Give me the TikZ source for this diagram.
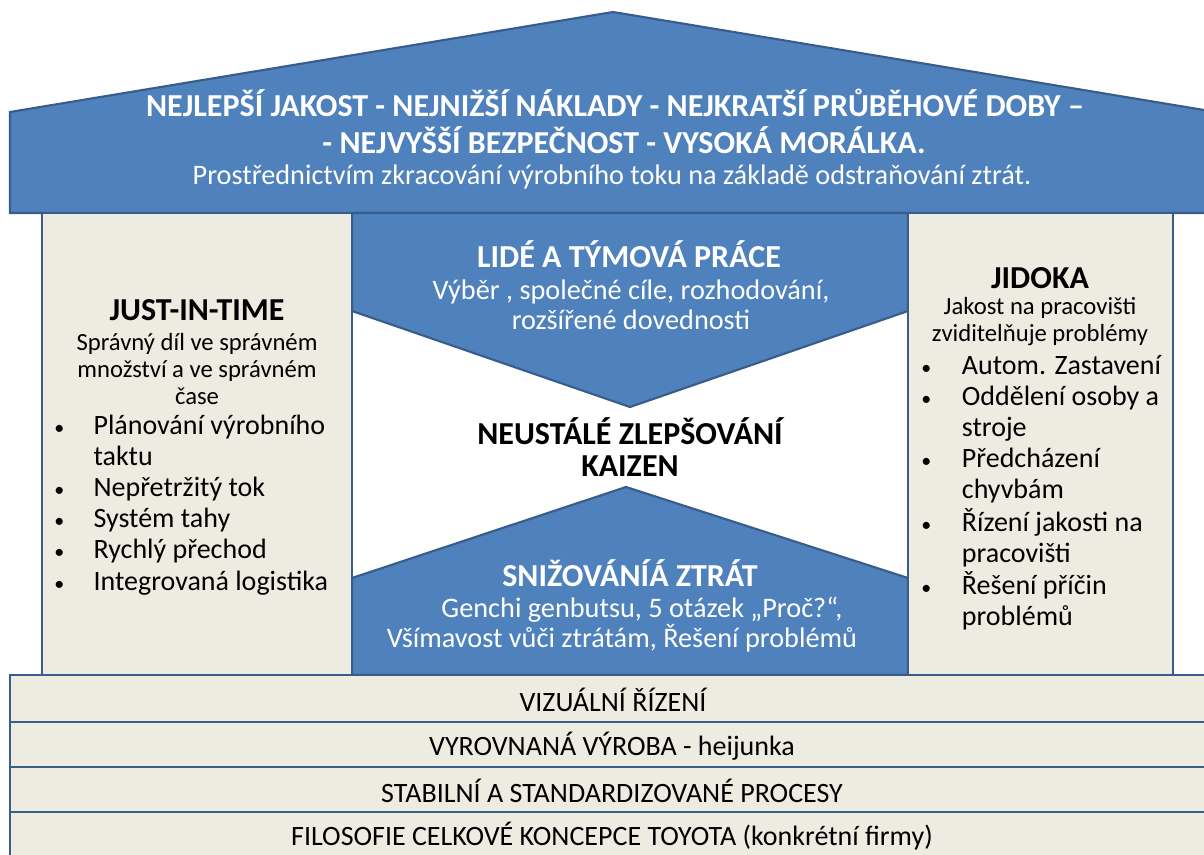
\documentclass[tikz,border=0pt]{standalone}
\usepackage{fontspec}
\setmainfont{Carlito}
\usepackage{array}
\definecolor{houseblue}{HTML}{4F81BD}
\definecolor{edgeblue}{HTML}{385D8A}
\definecolor{pillarfill}{HTML}{EEECE1}
\newcommand{\dotmark}{{\fontsize{15}{15}\selectfont •}}
\begin{document}
\begin{tikzpicture}[x=0.75pt,y=-0.75pt,
  part/.style={draw=edgeblue,line width=1.6pt,line join=miter},
  bluepart/.style={part,fill=houseblue},
  beigepart/.style={part,fill=pillarfill},
  whitepart/.style={part,fill=white},
  headw/.style={text=white,font=\fontsize{24}{27}\selectfont\bfseries,align=center,inner sep=0pt},
  subw/.style={text=white,font=\fontsize{21.2}{22.5}\selectfont,align=center,inner sep=0pt},
  headk/.style={text=black,font=\fontsize{24}{24}\selectfont\bfseries,align=center,inner sep=0pt},
  subk/.style={text=black,font=\fontsize{18.5}{20.25}\selectfont,align=center,inner sep=0pt},
  listk/.style={text=black,font=\fontsize{21}{23.4}\selectfont,inner sep=0pt,anchor=north west},
  bandtext/.style={text=black,font=\fontsize{21}{22}\selectfont,inner sep=0pt}]
\useasboundingbox (0,0) rectangle (1204,854);
\begin{scope}
\clip (0,0) rectangle (1204,854);
% roof
\draw[bluepart] (10,213) -- (10,112) -- (613,12) -- (1216,112) -- (1216,213) -- cycle;
% central column with its two blue wedges
\draw[whitepart] (352,213) rectangle (908,675);
\draw[bluepart] (352,213) -- (908,213) -- (908,311) -- (630,407) -- (352,311) -- cycle;
\draw[bluepart] (352,675) -- (352,578) -- (626,487) -- (908,578) -- (908,675) -- cycle;
% pillars
\draw[beigepart] (42,213) rectangle (352,675);
\draw[beigepart] (908,213) rectangle (1173,675);
% foundation bands
\draw[beigepart] (10,675) rectangle (1220,722);
\draw[beigepart] (10,722) rectangle (1220,767);
\draw[beigepart] (10,767) rectangle (1220,812);
\draw[beigepart] (10,812) rectangle (1220,870);
\end{scope}

% roof texts
\node[headw] (rooftitle) at (615,103) {NEJLEPŠÍ JAKOST - NEJNIŽŠÍ NÁKLADY - NEJKRATŠÍ PRŮBĚHOVÉ DOBY –};
\node[headw] (rooftitlecont) at (624,140) {- NEJVYŠŠÍ BEZPEČNOST - VYSOKÁ MORÁLKA.};
\node[subw] (roofsub) at (612,177) {Prostřednictvím zkracování výrobního toku na základě odstraňování ztrát.};

% people and teamwork
\node[headw] (peoplehead) at (629,254) {LIDÉ A TÝMOVÁ PRÁCE};
\node[subw] (peoplesub) at (631,305) {Výběr , společné cíle, rozhodování,\\rozšířené dovednosti};

% continuous improvement
\node[headk] (kaizen) at (630,447) {NEUSTÁLÉ ZLEPŠOVÁNÍ\\KAIZEN};

% waste reduction
\node[headw] (wastehead) at (630,573) {SNIŽOVÁNÍÁ ZTRÁT};
\node[subw] (wastesub) at (642,610) {Genchi genbutsu, 5 otázek „Proč?“,};
\node[subw] (wastesubcont) at (622,638) {Všímavost vůči ztrátám, Řešení problémů};

% just-in-time pillar
\node[headk] (jithead) at (197,310) {JUST-IN-TIME};
\node[subk] (jitsub) at (197,369) {Správný díl ve správném\\množství a ve správném\\čase};
\node[listk] (jitlist) at (54,412) {\begin{tabular}{@{}p{29.5pt}@{}l@{}}
\dotmark & Plánování výrobního\\
  & taktu\\
\dotmark & Nepřetržitý tok\\
\dotmark & Systém tahy\\
\dotmark & Rychlý přechod\\
\dotmark & Integrovaná logistika
\end{tabular}};

% jidoka pillar
\node[headk] (jidhead) at (1040,278) {JIDOKA};
\node[subk] (jidsub) at (1040,322) {Jakost na pracovišti\\zviditelňuje problémy};
\node[listk] (jidlist) at (921,352) {\begin{tabular}{@{}p{30.5pt}@{}l@{}}
\dotmark & Autom. Zastavení\\
\dotmark & Oddělení osoby a\\
  & stroje\\
\dotmark & Předcházení\\
  & chyvbám\\
\dotmark & Řízení jakosti na\\
  & pracovišti\\
\dotmark & Řešení příčin\\
  & problémů
\end{tabular}};

% foundation texts
\node[bandtext] (visual) at (613,700) {VIZUÁLNÍ ŘÍZENÍ};
\node[bandtext] (heijunka) at (612,746) {VYROVNANÁ VÝROBA - heijunka};
\node[bandtext] (stable) at (612,791) {STABILNÍ A STANDARDIZOVANÉ PROCESY};
\node[bandtext] (philosophy) at (612,836) {FILOSOFIE CELKOVÉ KONCEPCE TOYOTA (konkrétní firmy)};
\end{tikzpicture}
\end{document}
